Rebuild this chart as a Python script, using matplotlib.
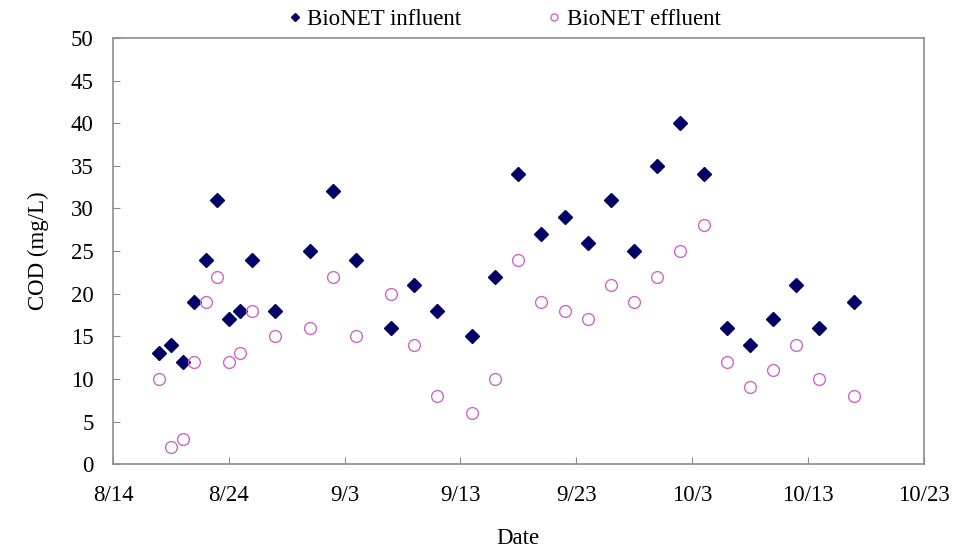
import matplotlib
matplotlib.use("Agg")
import matplotlib.pyplot as plt
import pandas as pd

plt.rcParams['font.family'] = ['Liberation Serif', 'DejaVu Serif']

dates = ["8/18", "8/19", "8/20", "8/21", "8/22", "8/23", "8/24", "8/25", "8/26", "8/28",
         "8/31", "9/2", "9/4", "9/7", "9/9", "9/11", "9/14", "9/16", "9/18", "9/20",
         "9/22", "9/24", "9/26", "9/28", "9/30", "10/2", "10/4", "10/6", "10/8", "10/10",
         "10/12", "10/14", "10/17"]
influent = [13, 14, 12, 19, 24, 31, 17, 18, 24, 18,
            25, 32, 24, 16, 21, 18, 15, 22, 34, 27,
            29, 26, 31, 25, 35, 40, 34, 16, 14, 17,
            21, 16, 19]
effluent = [10, 2, 3, 12, 19, 22, 12, 13, 18, 15,
            16, 22, 15, 20, 14, 8, 6, 10, 24, 19,
            18, 17, 21, 19, 22, 25, 28, 12, 9, 11,
            14, 10, 8]
xtick_labels = ["8/14", "8/24", "9/3", "9/13", "9/23", "10/3", "10/13", "10/23"]
yticks = [0, 5, 10, 15, 20, 25, 30, 35, 40, 45, 50]

year = 2008
x = pd.to_datetime([f"{year}/{d}" for d in dates], format="%Y/%m/%d")
xt = pd.to_datetime([f"{year}/{d}" for d in xtick_labels], format="%Y/%m/%d")

FS = 16.5

fig = plt.figure(figsize=(9.58, 5.5), dpi=100)
ax = fig.add_axes([0.118, 0.156, 0.846, 0.775])

ax.plot(x, influent, linestyle='none', marker='D', markersize=7,
        color='#000066', label='BioNET influent')
ax.plot(x, effluent, linestyle='none', marker='o', markersize=8.5,
        markerfacecolor='none', markeredgecolor='#CC66CC', markeredgewidth=1.0,
        label='BioNET effluent')

ax.set_xlim(xt[0], xt[-1])
ax.set_xticks(xt)
ax.set_xticklabels(xtick_labels)
ax.set_ylim(0, 50)
ax.set_yticks(yticks)

for s in ax.spines.values():
    s.set_color('#8c8c8c')
    s.set_linewidth(1.2)
ax.tick_params(direction='in', length=5, color='#8c8c8c', labelsize=FS)
ax.tick_params(axis='y', pad=14)
ax.tick_params(axis='x', pad=15)

ax.set_xlabel('Date', fontsize=FS, labelpad=16)
ax.set_ylabel('COD (mg/L)', fontsize=FS, labelpad=16)

leg = ax.legend(loc='lower center', bbox_to_anchor=(0.484, 0.988), ncol=2, frameon=False,
                fontsize=FS, handlelength=0.4, handletextpad=0.35, columnspacing=3.85,
                markerscale=0.6, borderaxespad=0.15)

fig.savefig('out.png', dpi=100, facecolor='white')
